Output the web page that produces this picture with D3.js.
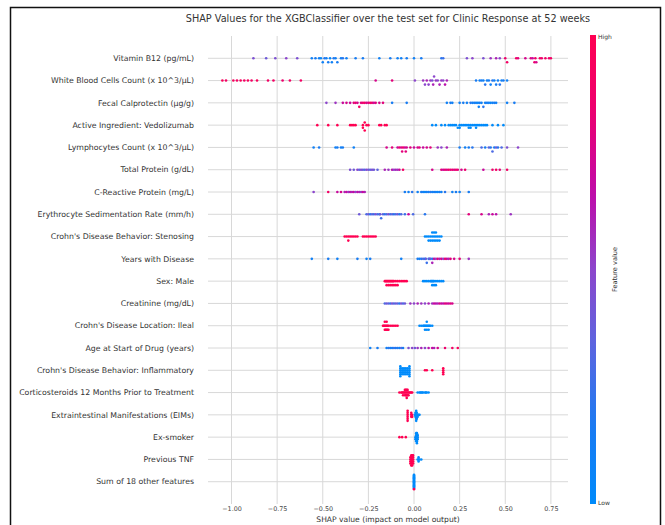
<!DOCTYPE html>
<html>
<head>
<meta charset="utf-8">
<script src="https://cdn.jsdelivr.net/npm/d3@7"></script>
<style>
  html, body { margin: 0; padding: 0; background: #ffffff; }
  svg { display: block; font-family: "DejaVu Sans", sans-serif; }
</style>
</head>
<body>
<svg id="chart" width="665" height="525"></svg>
<script>
// ---------------- DATA ----------------
const chartTitle = "SHAP Values for the XGBClassifier over the test set for Clinic Response at 52 weeks";
const xAxisLabel = "SHAP value (impact on model output)";
const colorbarLabel = "Feature value";
const colorbarHigh = "High";
const colorbarLow = "Low";

const featureNames = [
  "Vitamin B12 (pg/mL)",
  "White Blood Cells Count (x 10^3/µL)",
  "Fecal Calprotectin (µg/g)",
  "Active Ingredient: Vedolizumab",
  "Lymphocytes Count (x 10^3/µL)",
  "Total Protein (g/dL)",
  "C-Reactive Protein (mg/L)",
  "Erythrocyte Sedimentation Rate (mm/h)",
  "Crohn's Disease Behavior: Stenosing",
  "Years with Disease",
  "Sex: Male",
  "Creatinine (mg/dL)",
  "Crohn's Disease Location: Ileal",
  "Age at Start of Drug (years)",
  "Crohn's Disease Behavior: Inflammatory",
  "Corticosteroids 12 Months Prior to Treatment",
  "Extraintestinal Manifestations (EIMs)",
  "Ex-smoker",
  "Previous TNF",
  "Sum of 18 other features"
];

const xTickValues = [-1.00, -0.75, -0.50, -0.25, 0.00, 0.25, 0.50, 0.75];

// each point: [SHAP value, normalised feature value (0 = low, 1 = high)]
const vitaminB12 = [
  [-0.88,0.45],[-0.81,0.4],[-0.76,0.45],[-0.70,0.5],[-0.64,0.45],
  [-0.56,0.1],[-0.54,0.15],[-0.52,0.1],[-0.51,0.05],[-0.50,0.1],[-0.49,0.2],[-0.48,0.1],[-0.47,0.15],
  [-0.46,0.05],[-0.45,0.1],[-0.44,0.2],[-0.43,0.1],[-0.42,0.15],[-0.40,0.1],[-0.39,0.2],[-0.37,0.1],
  [-0.32,0.15],[-0.28,0.15],[-0.19,0.1],[-0.13,0.15],[-0.09,0.1],[-0.07,0.1],[-0.04,0.15],[0.00,0.1],
  [0.04,0.15],[0.15,0.2],[0.16,0.25],
  [0.29,0.45],[0.32,0.5],[0.38,0.45],[0.42,0.55],[0.45,0.6],[0.47,0.5],[0.50,0.85],[0.51,0.9],
  [0.56,0.9],[0.57,0.8],[0.61,0.75],[0.64,0.8],[0.65,0.7],[0.66,0.85],[0.665,0.9],[0.67,0.75],
  [0.69,0.9],[0.70,0.85],[0.72,0.9],[0.74,0.85],[0.75,0.9]
];
const whiteBloodCells = [
  [-1.05,0.95],[-1.03,0.9],[-0.99,0.95],[-0.97,0.9],[-0.95,0.95],[-0.93,0.9],[-0.91,0.95],[-0.89,0.9],
  [-0.86,0.95],[-0.80,0.9],[-0.77,0.9],[-0.72,0.85],[-0.68,0.9],[-0.62,0.9],
  [-0.21,0.75],[-0.12,0.8],
  [0.005,0.5],[0.05,0.55],[0.06,0.5],[0.07,0.6],[0.08,0.5],[0.09,0.55],[0.10,0.45],[0.105,0.6],
  [0.11,0.5],[0.12,0.55],[0.13,0.5],[0.14,0.6],[0.15,0.55],[0.16,0.5],[0.17,0.65],[0.18,0.6],
  [0.34,0.15],[0.36,0.1],[0.37,0.15],[0.38,0.1],[0.39,0.2],[0.40,0.1],[0.41,0.15],[0.42,0.1],
  [0.43,0.2],[0.44,0.1],[0.45,0.15],[0.46,0.1],[0.47,0.2],[0.48,0.1],[0.49,0.15],[0.51,0.1]
];
const fecalCalprotectin = [
  [-0.48,0.5],[-0.43,0.55],[-0.39,0.7],[-0.37,0.75],[-0.35,0.7],[-0.33,0.8],[-0.32,0.85],[-0.31,0.75],
  [-0.30,0.9],[-0.29,0.8],[-0.28,0.85],[-0.27,0.9],[-0.26,0.75],[-0.25,0.8],[-0.24,0.9],[-0.23,0.85],
  [-0.22,0.7],[-0.21,0.8],[-0.19,0.75],[-0.17,0.8],
  [-0.12,0.15],[-0.04,0.15],
  [0.18,0.1],[0.20,0.15],[0.21,0.1],[0.25,0.1],[0.27,0.15],[0.29,0.1],[0.31,0.2],[0.32,0.1],
  [0.33,0.15],[0.34,0.1],[0.35,0.05],[0.355,0.1],[0.36,0.15],[0.37,0.1],[0.38,0.2],[0.39,0.1],
  [0.40,0.15],[0.41,0.1],[0.42,0.05],[0.43,0.1],[0.44,0.15],[0.45,0.1],[0.51,0.1],[0.55,0.15]
];
const activeIngredient = [
  [-0.53,1],[-0.47,1],[-0.42,1],[-0.35,1],[-0.34,1],[-0.33,1],[-0.32,1],[-0.28,1],[-0.28,1],
  [-0.27,1],[-0.27,1],[-0.26,1],[-0.25,1],[-0.19,1],[-0.18,1],[-0.16,1],[-0.15,1],
  [0.10,0],[0.12,0],[0.15,0],[0.17,0],[0.19,0],[0.20,0],[0.21,0],[0.22,0],[0.23,0],[0.24,0],
  [0.25,0],[0.25,0],[0.26,0],[0.27,0],[0.28,0],[0.29,0],[0.30,0],[0.30,0],[0.31,0],[0.31,0],
  [0.32,0],[0.33,0],[0.34,0],[0.34,0],[0.35,0],[0.36,0],[0.37,0],[0.38,0],[0.39,0],[0.40,0],
  [0.43,0],[0.46,0],[0.49,0]
];
const lymphocytes = [
  [-0.55,0.1],[-0.52,0.15],[-0.43,0.1],[-0.42,0.15],[-0.40,0.1],[-0.39,0.15],[-0.33,0.1],
  [-0.15,0.75],[-0.12,0.8],[-0.09,0.7],[-0.08,0.85],[-0.07,0.75],[-0.065,0.8],[-0.06,0.9],[-0.05,0.7],
  [-0.045,0.8],[-0.04,0.75],[-0.02,0.8],[0.00,0.7],[0.02,0.75],[0.03,0.8],[0.05,0.7],[0.07,0.75],
  [0.09,0.8],[0.13,0.55],[0.15,0.5],[0.18,0.6],
  [0.25,0.15],[0.28,0.1],[0.30,0.15],[0.32,0.2],[0.37,0.3],[0.39,0.15],[0.41,0.35],[0.42,0.2],
  [0.43,0.3],[0.44,0.15],[0.45,0.4],[0.46,0.2],[0.48,0.3],[0.51,0.45],[0.57,0.5]
];
const totalProtein = [
  [-0.35,0.45],[-0.33,0.4],[-0.31,0.5],[-0.30,0.35],[-0.29,0.45],[-0.28,0.4],[-0.27,0.3],[-0.26,0.5],
  [-0.25,0.4],[-0.24,0.35],[-0.23,0.45],[-0.22,0.4],[-0.20,0.35],
  [-0.16,0.6],[-0.14,0.55],[-0.12,0.65],[-0.11,0.5],[-0.10,0.6],[-0.09,0.55],[-0.08,0.7],[-0.06,0.9],
  [0.10,0.75],[0.15,0.8],[0.16,0.7],[0.17,0.85],[0.18,0.75],[0.19,0.9],[0.20,0.8],[0.21,0.85],
  [0.22,0.75],[0.23,0.9],[0.24,0.8],[0.26,0.75],[0.28,0.85],[0.38,0.7],[0.43,0.85],[0.45,0.9],
  [0.47,0.8],[0.51,0.9]
];
const cReactiveProtein = [
  [-0.55,0.5],[-0.47,0.9],[-0.42,0.7],[-0.40,0.75],[-0.38,0.6],[-0.37,0.7],[-0.36,0.55],[-0.35,0.65],
  [-0.34,0.6],[-0.33,0.7],[-0.32,0.5],[-0.31,0.65],[-0.30,0.6],[-0.29,0.55],[-0.28,0.7],[-0.27,0.6],
  [-0.05,0.15],[-0.03,0.1],[-0.01,0.2],[0.02,0.1],[0.04,0.15],[0.05,0.1],[0.06,0.05],[0.07,0.15],
  [0.08,0.1],[0.09,0.2],[0.10,0.1],[0.11,0.15],[0.12,0.1],[0.13,0.05],[0.14,0.15],[0.15,0.1],
  [0.17,0.2],[0.21,0.1],[0.23,0.15],[0.25,0.1],[0.30,0.15]
];
const erythrocyteSedRate = [
  [-0.30,0.4],[-0.26,0.3],[-0.25,0.4],[-0.24,0.2],[-0.23,0.35],[-0.22,0.25],[-0.21,0.45],[-0.20,0.3],
  [-0.19,0.2],[-0.185,0.4],[-0.18,0.25],[-0.17,0.35],[-0.16,0.2],[-0.15,0.3],[-0.14,0.45],[-0.13,0.25],
  [-0.12,0.35],[-0.11,0.2],[-0.10,0.3],[-0.09,0.4],[-0.08,0.2],[-0.07,0.3],[-0.05,0.25],[-0.03,0.7],
  [-0.005,0.3],[0.06,0.2],
  [0.30,0.8],[0.37,0.75],[0.41,0.6],[0.43,0.7],[0.45,0.65],[0.53,0.55]
];
const behaviorStenosing = [
  [-0.38,1],[-0.37,1],[-0.36,1],[-0.36,1],[-0.35,1],[-0.34,1],[-0.33,1],[-0.32,1],[-0.31,1],
  [-0.28,1],[-0.27,1],[-0.26,1],[-0.25,1],[-0.24,1],[-0.23,1],[-0.22,1],[-0.21,1],
  [0.06,0],[0.07,0],[0.08,0],[0.08,0],[0.09,0],[0.09,0],[0.10,0],[0.10,0],[0.10,0],[0.11,0],
  [0.11,0],[0.11,0],[0.12,0],[0.12,0],[0.12,0],[0.13,0],[0.13,0],[0.14,0],[0.14,0],[0.15,0]
];
const yearsWithDisease = [
  [-0.56,0.1],[-0.47,0.15],[-0.42,0.1],[-0.31,0.15],[-0.26,0.1],[-0.24,0.15],[-0.07,0.1],
  [0.02,0.15],[0.03,0.1],[0.04,0.2],[0.05,0.3],[0.06,0.15],[0.065,0.4],[0.07,0.25],[0.08,0.1],
  [0.085,0.5],[0.09,0.3],[0.10,0.2],[0.10,0.6],[0.11,0.7],[0.12,0.5],[0.13,0.8],[0.14,0.6],
  [0.15,0.75],[0.16,0.5],[0.17,0.85],[0.18,0.7],[0.19,0.6],[0.20,0.8],[0.22,0.75],[0.25,0.8],
  [0.30,0.55]
];
const sexMale = [
  [-0.16,1],[-0.155,1],[-0.15,1],[-0.15,1],[-0.145,1],[-0.14,1],[-0.14,1],[-0.135,1],[-0.13,1],
  [-0.13,1],[-0.125,1],[-0.12,1],[-0.12,1],[-0.115,1],[-0.11,1],[-0.11,1],[-0.10,1],[-0.10,1],
  [-0.09,1],[-0.09,1],[-0.08,1],[-0.07,1],[-0.06,1],[-0.05,1],[-0.04,1],
  [0.05,0],[0.06,0],[0.07,0],[0.08,0],[0.09,0],[0.095,0],[0.10,0],[0.10,0],[0.105,0],[0.11,0],
  [0.11,0],[0.12,0],[0.12,0],[0.13,0],[0.14,0],[0.15,0],[0.16,0]
];
const creatinine = [
  [-0.16,0.3],[-0.15,0.4],[-0.14,0.35],[-0.13,0.25],[-0.12,0.45],[-0.11,0.3],[-0.10,0.4],[-0.09,0.35],
  [-0.08,0.2],[-0.07,0.45],[-0.06,0.3],[-0.05,0.4],[-0.02,0.55],[0.00,0.5],[0.02,0.6],[0.04,0.55],
  [0.06,0.5],[0.08,0.6],[0.10,0.55],[0.11,0.7],[0.12,0.65],[0.13,0.6],[0.14,0.75],[0.15,0.7],
  [0.16,0.65],[0.17,0.8],[0.18,0.75],[0.19,0.7],[0.20,0.8],[0.21,0.75]
];
const locationIleal = [
  [-0.17,1],[-0.165,1],[-0.16,1],[-0.16,1],[-0.16,1],[-0.155,1],[-0.155,1],[-0.15,1],[-0.15,1],
  [-0.15,1],[-0.145,1],[-0.145,1],[-0.14,1],[-0.14,1],[-0.13,1],[-0.12,1],[-0.11,1],[-0.10,1],[-0.09,1],
  [0.03,0],[0.04,0],[0.05,0],[0.055,0],[0.06,0],[0.06,0],[0.065,0],[0.07,0],[0.07,0],[0.07,0],
  [0.075,0],[0.08,0],[0.08,0],[0.085,0],[0.09,0],[0.10,0]
];
const ageAtStart = [
  [-0.24,0.1],[-0.20,0.15],[-0.15,0.1],[-0.14,0.2],[-0.13,0.15],[-0.12,0.1],[-0.11,0.25],[-0.10,0.15],
  [-0.09,0.2],[-0.08,0.1],[-0.07,0.3],[-0.06,0.15],[-0.03,0.45],[-0.01,0.5],[0.005,0.4],[0.02,0.55],
  [0.04,0.6],[0.06,0.5],[0.08,0.65],[0.10,0.7],[0.11,0.6],[0.13,0.75],[0.17,0.85],[0.21,0.9],[0.24,0.95]
];
const behaviorInflammatory = [
  [-0.075,0],[-0.075,0],[-0.075,0],[-0.075,0],[-0.075,0],[-0.075,0],
  [-0.065,0],[-0.065,0],[-0.065,0],[-0.065,0],
  [-0.055,0],[-0.055,0],[-0.055,0],[-0.055,0],
  [-0.045,0],[-0.045,0],[-0.045,0],[-0.045,0],
  [-0.035,0],[-0.035,0],[-0.035,0],[-0.035,0],
  [-0.025,0],[-0.025,0],[-0.025,0],[-0.025,0],[-0.025,0],[-0.025,0],
  [0.06,1],[0.07,1],[0.10,1],[0.16,1],[0.16,1],[0.16,1],[0.16,1]
];
const corticosteroids = [
  [-0.08,1],[-0.07,1],[-0.065,1],[-0.06,1],[-0.06,1],[-0.055,1],[-0.05,1],[-0.05,1],[-0.05,1],
  [-0.045,1],[-0.045,1],[-0.045,1],[-0.04,1],[-0.04,1],[-0.04,1],[-0.04,1],[-0.035,1],[-0.035,1],
  [-0.035,1],[-0.03,1],[-0.03,1],[-0.025,1],[-0.02,1],[-0.015,1],[-0.01,1],
  [0.02,0],[0.03,0],[0.035,0],[0.04,0],[0.045,0],[0.05,0],[0.06,0],[0.065,0],[0.07,0],[0.08,0]
];
const extraintestinal = [
  [-0.035,1],[-0.035,1],[-0.035,1],[-0.035,1],[-0.035,1],[-0.035,1],
  [-0.015,1],[-0.015,1],[-0.015,1],[-0.01,1],[-0.01,1],
  [0.005,0],[0.008,0],[0.008,0],[0.008,0],[0.012,0],[0.012,0],[0.012,0],[0.012,0],[0.012,0],
  [0.012,0],[0.015,0],[0.015,0],[0.015,0],[0.015,0],[0.02,0],[0.02,0],[0.025,0],[0.03,0]
];
const exSmoker = [
  [-0.08,1],[-0.065,1],[-0.045,1],
  [0.008,0],[0.008,0],[0.012,0],[0.012,0],[0.012,0],[0.012,0],[0.012,0],
  [0.016,0],[0.016,0],[0.016,0],[0.016,0],[0.016,0],[0.016,0],[0.02,0],[0.02,0],[0.02,0]
];
const previousTNF = [
  [-0.02,1],[-0.02,1],[-0.02,1],[-0.02,1],
  [-0.015,1],[-0.015,1],[-0.015,1],[-0.015,1],[-0.015,1],[-0.015,1],
  [-0.01,1],[-0.01,1],[-0.01,1],[-0.01,1],[-0.01,1],[-0.01,1],
  [-0.005,1],[-0.005,1],[-0.005,1],[-0.005,1],[-0.005,1],
  [0.02,0],[0.025,0],[0.025,0],[0.025,0],[0.03,0],[0.04,0]
];
const otherFeatures = [
  [0,0],[0,0],[0,0],[0,0],[0,0],[0,0],[0,0],[0,0],[0,0],[0,0],[0,0],[0,0],[0,0],
  [0,0],[0,0],[0,0],[0,0],[0,0],[0,0],[0,0],[0,0],[0,0],[0,0],[0,0],[0,0],[0,1]
];

const featureRows = [
  vitaminB12, whiteBloodCells, fecalCalprotectin, activeIngredient, lymphocytes,
  totalProtein, cReactiveProtein, erythrocyteSedRate, behaviorStenosing, yearsWithDisease,
  sexMale, creatinine, locationIleal, ageAtStart, behaviorInflammatory,
  corticosteroids, extraintestinal, exSmoker, previousTNF, otherFeatures
];

// ---------------- LAYOUT ----------------
const svg = d3.select("#chart");
const plotLeft = 208, plotRight = 568, plotTop = 36, plotBottom = 504;

const x = d3.scaleLinear().domain([-1.1288, 0.8438]).range([plotLeft, plotRight]);
const y = d3.scaleLinear().domain([-1, featureNames.length]).range([plotTop, plotBottom]);

const colorStops = ["#008bfb", "#1a7af2", "#5a66e0", "#8c46cc", "#c00aa8", "#ec0070", "#ff0052"];
const color = d3.scaleLinear()
  .domain(colorStops.map((c, i) => i / (colorStops.length - 1)))
  .range(colorStops)
  .interpolate(d3.interpolateRgb);

// outer frame
svg.append("rect")
  .attr("x", 10.5).attr("y", 7.5)
  .attr("width", 650).attr("height", 530)
  .attr("fill", "none").attr("stroke", "#111").attr("stroke-width", 1.5);

// title
svg.append("text")
  .attr("x", (plotLeft + plotRight) / 2).attr("y", 22)
  .attr("text-anchor", "middle")
  .attr("font-size", 9.7).attr("fill", "#333")
  .text(chartTitle);

// grid
const grid = svg.append("g");
grid.selectAll("line.v").data(xTickValues).enter().append("line")
  .attr("x1", d => x(d)).attr("x2", d => x(d))
  .attr("y1", plotTop).attr("y2", plotBottom)
  .attr("stroke", "#d8d8d8").attr("stroke-width", 1);
grid.selectAll("line.h").data(featureNames).enter().append("line")
  .attr("x1", plotLeft).attr("x2", plotRight)
  .attr("y1", (d, i) => y(i)).attr("y2", (d, i) => y(i))
  .attr("stroke", "#d8d8d8").attr("stroke-width", 1);

// feature labels
svg.append("g").selectAll("text").data(featureNames).enter().append("text")
  .attr("x", 194).attr("y", (d, i) => y(i))
  .attr("dy", "0.35em")
  .attr("text-anchor", "end")
  .attr("font-size", 7.8).attr("fill", "#333")
  .text(d => d);

// beeswarm layout (shap style)
function swarmOffsets(points) {
  const vals = points.map(p => p[0]);
  const mn = d3.min(vals), mx = d3.max(vals);
  const nbins = 100;
  const quant = vals.map(v => Math.round(nbins * (v - mn) / (mx - mn + 1e-8)));
  const order = d3.range(vals.length).sort((a, b) => (quant[a] - quant[b]) || (a - b));
  const ys = new Array(vals.length).fill(0);
  let layer = 0, last = -1;
  order.forEach(i => {
    if (quant[i] !== last) layer = 0;
    ys[i] = Math.ceil(layer / 2) * ((layer % 2) * 2 - 1);
    layer++;
    last = quant[i];
  });
  const m = d3.max(ys) + 1;
  return ys.map(v => v * 0.9 * (0.4 / m));
}

const dots = svg.append("g");
featureRows.forEach((points, row) => {
  const offs = swarmOffsets(points);
  dots.append("g").selectAll("circle").data(points).enter().append("circle")
    .attr("cx", d => x(d[0]))
    .attr("cy", (d, i) => y(row + offs[i]))
    .attr("r", 1.3)
    .attr("fill", d => color(d[1]));
});

// x axis
const xAxis = d3.axisBottom(x)
  .tickValues(xTickValues)
  .tickSize(0)
  .tickPadding(3)
  .tickFormat(d3.format(".2f"));
const axisG = svg.append("g").attr("transform", `translate(0,${plotBottom - 1})`).call(xAxis);
axisG.select(".domain").remove();
axisG.selectAll("text").attr("font-size", 6.4).attr("fill", "#444")
  .attr("font-family", "DejaVu Sans, sans-serif");

svg.append("text")
  .attr("x", (plotLeft + plotRight) / 2).attr("y", 522)
  .attr("text-anchor", "middle")
  .attr("font-size", 7.6).attr("fill", "#333")
  .text(xAxisLabel);

// colorbar
const defs = svg.append("defs");
const grad = defs.append("linearGradient").attr("id", "cbar")
  .attr("x1", 0).attr("y1", 1).attr("x2", 0).attr("y2", 0);
grad.selectAll("stop").data(d3.range(0, 1.0001, 0.05)).enter().append("stop")
  .attr("offset", d => d).attr("stop-color", d => color(d));

const cbX = 590, cbW = 6, cbTop = 35, cbBottom = 504;
svg.append("rect")
  .attr("x", cbX).attr("y", cbTop)
  .attr("width", cbW).attr("height", cbBottom - cbTop)
  .attr("fill", "url(#cbar)");
svg.append("text").attr("x", cbX + cbW + 2).attr("y", cbTop + 4)
  .attr("font-size", 6).attr("fill", "#333").text(colorbarHigh);
svg.append("text").attr("x", cbX + cbW + 2).attr("y", cbBottom + 1)
  .attr("font-size", 6).attr("fill", "#333").text(colorbarLow);
svg.append("text")
  .attr("transform", `translate(617,${(cbTop + cbBottom) / 2}) rotate(-90)`)
  .attr("text-anchor", "middle")
  .attr("font-size", 6.6).attr("fill", "#333")
  .text(colorbarLabel);
</script>
</body>
</html>
